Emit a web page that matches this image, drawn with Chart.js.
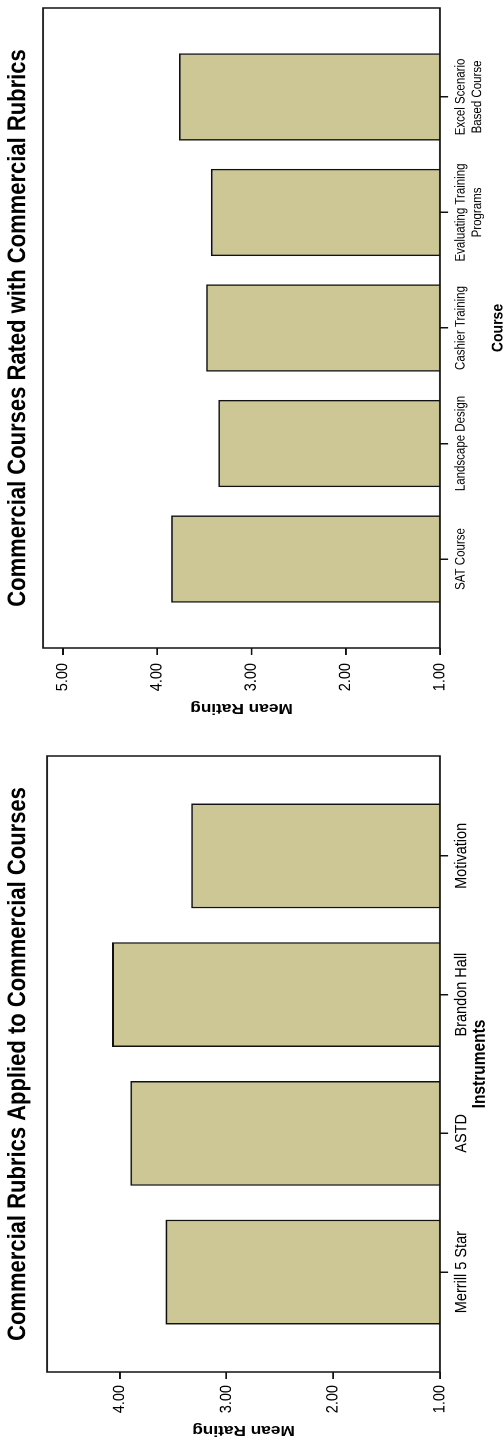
<!DOCTYPE html>
<html>
<head>
<meta charset="utf-8">
<script src="https://cdn.jsdelivr.net/npm/chart.js@4.4.1/dist/chart.umd.min.js"></script>
<style>
  html, body { margin: 0; padding: 0; background: #fff; overflow: hidden; }
  body { width: 504px; height: 1440px; position: relative; }
  /* charts are drawn upright, then the whole strip is turned a quarter turn left */
  #strip {
    position: absolute; left: 0; top: 0;
    width: 1440px; height: 438px;
    transform-origin: 0 0;
    transform: translate(0, 1440px) rotate(-90deg) scale(1, 1.15);
  }
  .box { position: absolute; top: 0; width: 720px; height: 438px; }
</style>
</head>
<body>
<div id="strip">
  <div class="box" style="left:0"><canvas id="instChart"></canvas></div>
  <div class="box" style="left:720px"><canvas id="courseChart"></canvas></div>
</div>
<script>
const courseLabels = ["SAT Course", "Landscape Design", "Cashier Training", ["Evaluating Training", "Programs"], ["Excel Scenario", "Based Course"]];
const courseRatings = [3.85, 3.35, 3.48, 3.43, 3.77];

const instrumentLabels = ["Merrill 5 Star", "ASTD", "Brandon Hall", "Motivation"];
const instrumentRatings = [3.57, 3.90, 4.07, 3.33];

const FONT = "'Liberation Sans', Arial, Helvetica, sans-serif";
const BAR_FILL = "#ccc795";
const INK = "#111";

// outline round the plot area
const frame = {
  id: "frame",
  afterDatasetsDraw(chart) {
    const { ctx, chartArea: a } = chart;
    ctx.save();
    ctx.strokeStyle = INK;
    ctx.lineWidth = 1.5;
    ctx.strokeRect(a.left, a.top, a.right - a.left, a.bottom - a.top);
    ctx.restore();
  },
};

function makeChart(id, o) {
  const points = o.values.map((v, i) => ({ x: i, y: v }));
  return new Chart(document.getElementById(id), {
    type: "bar",
    data: {
      datasets: [{
        data: points,
        backgroundColor: BAR_FILL,
        borderColor: INK,
        borderWidth: 1.5,
        borderSkipped: false,
        categoryPercentage: 1,
        barPercentage: 0.755,
      }],
    },
    plugins: [frame],
    options: {
      responsive: true,
      maintainAspectRatio: false,
      animation: false,
      devicePixelRatio: 2,
      layout: { padding: { left: 0, right: o.padRight, top: 0, bottom: 0 } },
      plugins: {
        legend: { display: false },
        tooltip: { enabled: false },
        title: {
          display: true,
          text: o.title,
          fullSize: false,
          color: "#000",
          font: { family: FONT, size: 22, weight: "bold" },
          padding: { top: 2.5, bottom: o.titleBottom },
        },
      },
      scales: {
        x: {
          type: "linear",
          offset: false,
          min: o.xMin,
          max: o.xMax,
          afterFit: (s) => { s.height = 438 - 382.6; },
          border: { display: false },
          grid: { offset: false, drawOnChartArea: false, drawTicks: true, tickLength: 7, color: INK, lineWidth: 1.5 },
          ticks: {
            stepSize: 1,
            includeBounds: false,
            autoSkip: false,
            maxRotation: 0,
            padding: o.xPad,
            color: "#000",
            font: { family: FONT, size: o.catSize, lineHeight: 1.25 },
            callback: (v) => (Number.isInteger(v) ? o.labels[v] : ""),
          },
          title: {
            display: true,
            text: o.xTitle,
            color: "#000",
            font: { family: FONT, size: o.xTitleSize, weight: "bold" },
            padding: { top: 0, bottom: o.xTitleBottom },
          },
        },
        y: {
          min: 1,
          max: o.yMax,
          afterFit: (s) => { s.width = o.yWidth; },
          border: { display: false },
          grid: { drawOnChartArea: false, drawTicks: true, tickLength: 7, color: INK, lineWidth: 1.5 },
          ticks: {
            stepSize: 1,
            includeBounds: false,
            padding: o.yPad,
            color: "#000",
            font: { family: FONT, size: 14.5 },
            callback: (v) => v.toFixed(2),
          },
          title: {
            display: true,
            text: "Mean Rating",
            color: "#000",
            font: { family: FONT, size: 15, weight: "bold" },
            padding: { top: o.yTitleTop, bottom: 0 },
          },
        },
      },
    },
  });
}

makeChart("courseChart", {
  title: "Commercial Courses Rated with Commercial Rubrics",
  labels: courseLabels,
  values: courseRatings,
  xTitle: "Course",
  xTitleSize: 14,
  xTitleBottom: -3.4,
  catSize: 11.5,
  xMin: -0.77,
  xMax: 4.77,
  xPad: 4,
  yMax: 5.21,
  yWidth: 72,
  yPad: 8,
  yTitleTop: 3,
  padRight: 8,
  titleBottom: 8.5,
});

makeChart("instChart", {
  title: "Commercial Rubrics Applied to Commercial Courses",
  labels: instrumentLabels,
  values: instrumentRatings,
  xTitle: "Instruments",
  xTitleSize: 15.5,
  xTitleBottom: 11.3,
  catSize: 14.5,
  xMin: -0.72,
  xMax: 3.72,
  xPad: 3,
  yMax: 4.68,
  yWidth: 68,
  yPad: 6,
  yTitleTop: 1,
  padRight: 36,
  titleBottom: 12,
});
</script>
</body>
</html>
